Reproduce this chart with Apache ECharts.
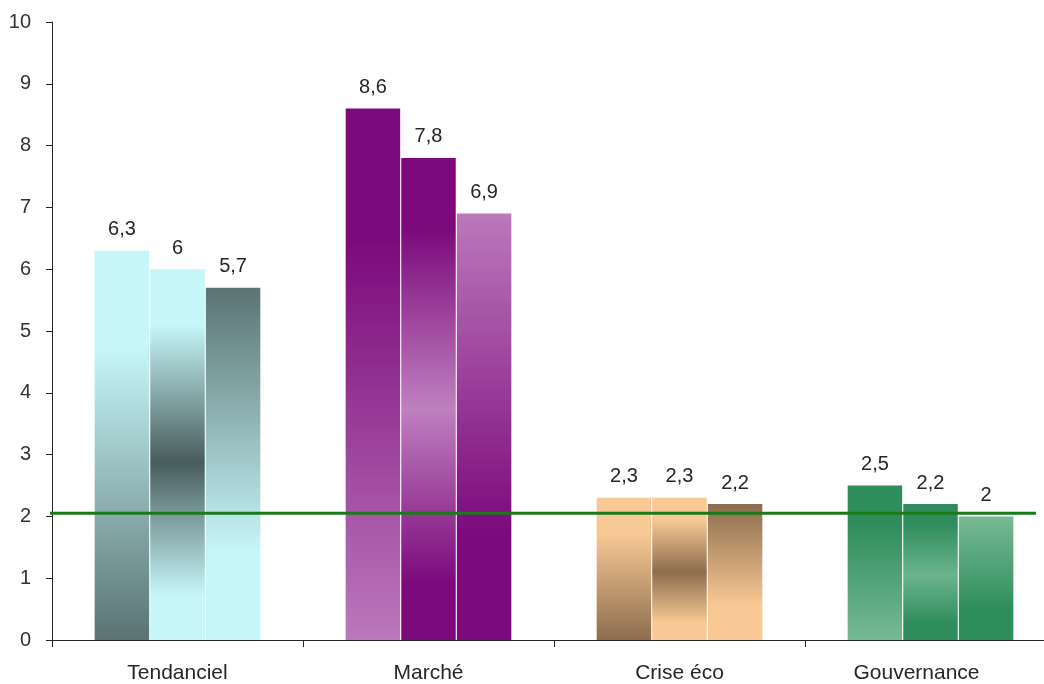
<!DOCTYPE html>
<html>
<head>
<meta charset="utf-8">
<script src="https://cdn.jsdelivr.net/npm/echarts@6/dist/echarts.min.js"></script>
<style>html,body{margin:0;padding:0;background:#fff;overflow:hidden}#c{width:1056px;height:684px}</style>
</head>
<body>
<div id="c"></div>
<script>
var categories = ['Tendanciel', 'Marché', 'Crise éco', 'Gouvernance'];
var serie1 = [6.3, 8.6, 2.3, 2.5];
var serie2 = [6.0, 7.8, 2.3, 2.2];
var serie3 = [5.7, 6.9, 2.2, 2.0];
var referenceValue = 2.05;
var referenceSpan = [-0.02, 3.92];
var yTicks = [0, 10, 1];

var colorA = ['#c6f6f8', '#7c0a7c', '#f8c994', '#2f8d5d'];
var colorB = ['#5a7373', '#bb78bb', '#8c6d4e', '#76ba95'];
var colorMid = ['#485c5c', '#bf80bf', '#8c6d4e', '#6cb48e'];

function grad(stops) {
  return new echarts.graphic.LinearGradient(0, 0, 0, 1, stops);
}
function items(vals, kind) {
  return vals.map(function (v, i) {
    var c;
    if (kind === 1) c = grad([{offset: 0, color: colorA[i]}, {offset: 0.25, color: colorA[i]}, {offset: 1, color: colorB[i]}]);
    else if (kind === 3) c = grad([{offset: 0, color: colorB[i]}, {offset: 0.75, color: colorA[i]}, {offset: 1, color: colorA[i]}]);
    else c = grad([{offset: 0, color: colorA[i]}, {offset: 0.15, color: colorA[i]}, {offset: 0.52, color: colorMid[i]}, {offset: 0.88, color: colorA[i]}, {offset: 1, color: colorA[i]}]);
    return {value: v, itemStyle: {color: c}};
  });
}
var font = 'Liberation Sans, Arial, sans-serif';
var lbl = {
  show: true, position: 'top', distance: 11, color: '#262626', fontSize: 20, fontFamily: font,
  formatter: function (p) { return String(p.value).replace('.', ','); }
};
function barSeries(vals, kind) {
  return {
    type: 'bar', data: items(vals, kind), barGap: '2%', barCategoryGap: '34%',
    label: lbl, xAxisIndex: 0, yAxisIndex: 0
  };
}
var chart = echarts.init(document.getElementById('c'), null, {renderer: 'canvas'});
chart.setOption({
  backgroundColor: '#fff',
  animation: false,
  grid: {left: 52, right: 0, top: 22, bottom: 43, containLabel: false},
  xAxis: [{
    type: 'category',
    data: categories.map(function (c, i) {
      return i === categories.length - 1 ? {value: c, textStyle: {padding: [0, 28, 0, 0]}} : c;
    }),
    axisLine: {lineStyle: {color: '#262626', width: 1}},
    axisTick: {show: true, length: 7, lineStyle: {color: '#262626'}},
    axisLabel: {color: '#262626', fontSize: 21, fontFamily: font, margin: 23},
    splitLine: {show: false}
  }, {
    type: 'value', min: 0, max: categories.length, show: false
  }],
  yAxis: {
    type: 'value', min: yTicks[0], max: yTicks[1], interval: yTicks[2],
    axisLine: {show: true, lineStyle: {color: '#262626', width: 1}},
    axisTick: {show: true, length: 6, lineStyle: {color: '#262626'}},
    axisLabel: {color: '#333', fontSize: 20, fontFamily: font, margin: 21},
    splitLine: {show: false}
  },
  series: [
    barSeries(serie1, 1),
    barSeries(serie2, 2),
    barSeries(serie3, 3),
    {
      type: 'line', xAxisIndex: 1, yAxisIndex: 0, symbol: 'none', silent: true,
      data: [[referenceSpan[0], referenceValue], [referenceSpan[1], referenceValue]],
      lineStyle: {color: '#1a7a1a', width: 3}, z: 5
    }
  ]
});
</script>
</body>
</html>
